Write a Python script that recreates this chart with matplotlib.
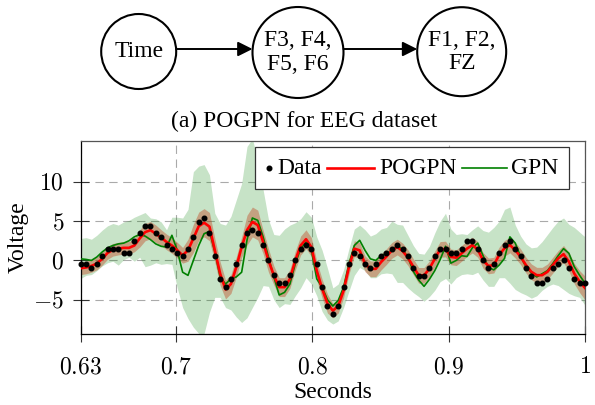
import numpy as np
import matplotlib
matplotlib.use("Agg")
import matplotlib.pyplot as plt
from matplotlib.patches import Circle
from matplotlib.lines import Line2D
from matplotlib.offsetbox import AnchoredOffsetbox, HPacker, TextArea, DrawingArea

plt.rcParams['font.family'] = ['Liberation Serif', 'DejaVu Serif']
plt.rcParams['mathtext.fontset'] = 'cm'
plt.rcParams['lines.scale_dashes'] = False

# ---------------- data ----------------
t_start, t_end, n_samples = 0.63, 1.0, 95
seconds = np.linspace(t_start, t_end, n_samples)

data = [-0.45, -0.45, -0.92, -0.45, 0.51, 1.48, 1.48, 1.48, 0.98, 0.98,
        2.48, 3.43, 4.44, 4.44, 3.43, 2.95, 1.97, 1.48, 0.98, 0.51,
        1.48, 2.95, 4.9, 5.4, 3.43, 0.51, -2.4, -3.4, -2.4, -0.47,
        1.97, 3.43, 3.9, 3.43, 1.97, 0.0, -1.9, -2.9, -2.9, -1.9,
        0.0, 1.48, 1.97, 1.48, -0.47, -3.4, -5.8, -6.8, -5.8, -3.4,
        -0.47, 0.98, 0.51, -0.47, -0.94, -0.47, 0.51, 0.98, 1.5, 1.97,
        1.5, 0.51, -0.94, -1.92, -1.92, -0.94, 0.51, 1.5, 1.5, 0.98,
        0.98, 1.5, 2.48, 2.48, 1.5, 0.0, -0.94, -0.47, 0.98, 1.97,
        2.48, 1.5, 0.51, -0.94, -1.92, -2.9, -2.9, -2.4, -0.94, -0.47,
        0.0, -0.94, -2.4, -2.9, -2.9]

pogpn_mean = [-1.0, -0.9, -0.7, -0.4, 0.2, 0.95, 1.35, 1.5, 1.6, 1.6,
              1.9, 2.8, 3.6, 3.85, 3.4, 2.9, 2.35, 1.9, 1.3, 0.65,
              1.3, 2.8, 4.35, 4.8, 4.3, 1.3, -1.7, -3.7, -3.0, -0.85,
              1.7, 3.85, 4.9, 4.5, 2.35, 0.0, -1.9, -3.4, -3.4, -2.35,
              0.0, 1.9, 2.7, 1.7, -1.3, -3.6, -5.5, -6.4, -5.8, -3.85,
              -0.85, 1.5, 1.28, -0.43, -1.07, -1.07, -0.2, 0.5, 1.28, 1.7,
              1.2, 0.35, -0.8, -1.9, -1.9, -1.05, 0.2, 1.4, 1.45, 0.45,
              0.35, 0.9, 1.5, 1.95, 1.4, 0.0, -0.7, -0.6, 0.7, 1.55,
              1.97, 1.3, 0.47, -0.6, -1.45, -1.88, -1.88, -1.45, -0.6, 0.26,
              0.8, -0.17, -1.67, -2.7, -3.5]

pogpn_half = [0.8, 0.8, 0.8, 0.8, 0.8, 0.8, 0.8, 0.8, 0.8, 0.8,
              0.8, 1.1, 1.1, 1.1, 1.1, 1.0, 1.0, 1.0, 1.0, 1.0,
              1.4, 1.8, 1.8, 1.8, 1.8, 1.5, 1.5, 1.2, 1.2, 1.3,
              1.3, 1.9, 1.9, 1.9, 1.5, 1.5, 1.2, 1.2, 1.2, 1.2,
              1.2, 1.2, 1.2, 1.2, 1.2, 1.2, 1.2, 0.9, 0.9, 0.9,
              0.9, 1.0, 1.0, 1.0, 1.0, 1.0, 1.0, 1.0, 1.0, 1.0,
              1.0, 1.0, 1.0, 1.0, 1.0, 1.0, 1.0, 1.0, 1.0, 1.0,
              1.0, 1.0, 1.0, 1.0, 1.0, 1.0, 1.0, 1.0, 1.0, 1.0,
              1.0, 1.0, 1.0, 1.0, 1.0, 1.0, 1.0, 1.0, 1.0, 1.0,
              1.1, 1.2, 1.3, 1.4, 1.5]

gpn_mean = [0.2, 0.13, 0.0, 0.43, 1.07, 1.6, 1.9, 2.1, 2.2, 2.5,
            3.0, 3.3, 3.1, 2.65, 2.1, 1.8, 1.7, 3.2, 1.28, -1.5,
            -1.9, 0.0, 1.9, 3.4, 3.7, 1.1, -2.1, -3.0, -2.35, -2.1,
            -1.5, 2.6, 5.4, 5.1, 3.0, 0.43, -2.1, -4.4, -4.06, -3.0,
            -0.43, 1.5, 2.35, 1.28, -2.35, -3.4, -5.0, -5.8, -5.1, -3.4,
            -0.43, 1.9, 2.56, 1.28, 0.2, 0.0, 0.64, 0.85, 1.28, 1.9,
            1.4, 0.4, -1.4, -2.5, -3.3, -2.4, -1.3, 0.1, 1.8, -0.35,
            0.0, 0.6, 0.5, 1.6, 2.2, 0.6, -0.9, -1.2, -0.6, 0.26,
            3.0, 2.2, 0.47, -0.8, -1.6, -2.1, -1.7, -1.3, -0.4, 0.6,
            1.5, 0.9, -0.8, -1.9, -2.9]

gpn_upper = [2.8, 2.9, 2.7, 3.2, 3.85, 4.4, 4.7, 4.5, 4.9, 5.1,
             5.5, 5.8, 6.1, 5.4, 5.3, 4.9, 3.9, 5.5, 5.5, 5.4,
             6.5, 11.3, 12.0, 12.2, 10.9, 6.0, 4.7, 4.5, 5.6, 7.7,
             9.8, 14.5, 15.5, 12.8, 9.0, 5.2, 3.3, 3.2, 4.0, 4.5,
             4.8, 5.3, 6.2, 5.5, 3.0, 1.3, -1.0, -3.5, -3.0, -1.2,
             1.5, 4.0, 4.5, 3.9, 3.1, 3.4, 4.0, 4.2, 5.0, 4.6,
             4.5, 3.2, 1.9, 0.9, 0.8, 1.8, 3.5, 5.0, 6.0, 4.0,
             3.3, 3.4, 3.3, 3.9, 4.4, 3.8, 3.6, 4.2, 5.0, 6.5,
             6.8, 4.5, 3.1, 2.1, 1.6, 1.7, 2.4, 3.3, 4.2, 5.0,
             5.4, 4.6, 4.2, 3.6, 3.0]

gpn_lower = [-2.3, -1.9, -1.8, -1.3, -0.7, -0.3, -0.1, -0.6, 0.1, 0.4,
             -0.1, 0.4, -0.8, -0.6, -0.3, -0.5, -0.4, -0.5, -3.5, -6.0,
             -7.4, -8.5, -9.3, -9.3, -6.6, -4.7, -4.7, -6.0, -6.3, -7.2,
             -7.9, -7.3, -6.0, -4.7, -3.2, -3.3, -5.0, -6.0, -5.5, -5.6,
             -4.5, -3.5, -2.2, -3.0, -4.5, -6.5, -7.6, -8.1, -7.7, -6.0,
             -3.9, -1.9, -0.9, -1.3, -2.2, -2.2, -1.7, -1.6, -1.7, -2.8,
             -2.8, -3.5, -4.1, -4.6, -5.2, -4.6, -3.8, -2.7, -2.3, -3.0,
             -2.2, -1.8, -1.7, -1.8, -1.5, -2.5, -3.3, -3.3, -2.2, -2.2,
             -2.9, -3.7, -4.1, -4.4, -4.8, -4.5, -3.8, -3.3, -3.0, -3.2,
             -3.7, -4.2, -4.5, -4.7, -5.7]

x_ticks = [0.63, 0.7, 0.8, 0.9, 1.0]
x_tick_labels = ["$0.63$", "$0.7$", "$0.8$", "$0.9$", "$1$"]
y_ticks = [-5, 0, 5, 10]
y_tick_labels = ["$-5$", "$0$", "$5$", "$10$"]
y_limits = (-9.3, 15.2)

diagram_nodes = ["Time", "F3, F4,\nF5, F6", "F1, F2,\nFZ"]
caption = "(a) POGPN for EEG dataset"
legend_labels = ["Data", "POGPN", "GPN"]

# ---------------- figure ----------------
W, H = 595, 405
fig = plt.figure(figsize=(W / 100, H / 100), dpi=100)
FS = 17

# diagram (pixel-coordinate axes)
dax = fig.add_axes([0, 1 - 135 / H, 1, 135 / H])
dax.set_xlim(0, W)
dax.set_ylim(135, 0)
dax.axis("off")
node_xy = [(138.7, 51.5), (298.0, 52.5), (461.7, 51.7)]
node_r = [37.5, 45.5, 44.5]
for (cx, cy), r, lab in zip(node_xy, node_r, diagram_nodes):
    dax.add_patch(Circle((cx, cy), r, fill=False, lw=1.5, ec="black"))
    dax.text(cx, cy, lab, ha="center", va="center", fontsize=FS,
             linespacing=1.15)
for k in range(2):
    (x0, y0), r0 = node_xy[k], node_r[k]
    (x1, y1), r1 = node_xy[k + 1], node_r[k + 1]
    dax.annotate("", xy=(x1 - r1, 49), xytext=(x0 + r0, 49),
                 arrowprops=dict(arrowstyle="-|>", lw=1.4, color="black",
                                 mutation_scale=22, shrinkA=0, shrinkB=0))
dax.text(304.5, 121.5, caption, ha="center", va="center", fontsize=FS)

# main plot
L, R, T, B = 80.7, 585.0, 141.0, 333.5
ax = fig.add_axes([L / W, (H - B) / H, (R - L) / W, (B - T) / H])

green_c = (0.0, 0.5, 0.0)
ax.fill_between(seconds, gpn_lower, gpn_upper, color=green_c, alpha=0.22,
                lw=0, zorder=1)
pm = np.array(pogpn_mean)
ph = np.array(pogpn_half)
ax.fill_between(seconds, pm - ph, pm + ph, color=(0.75, 0.15, 0.0), alpha=0.35,
                lw=0, zorder=2)
ax.plot(seconds, gpn_mean, color=green_c, lw=1.2, zorder=3)
ax.plot(seconds, pogpn_mean, color="red", lw=1.9, zorder=4)
ax.plot(seconds, data, "o", color="black", ms=3.3, zorder=5, clip_on=False)

ax.set_xlim(t_start, t_end)
ax.set_ylim(*y_limits)
ax.set_xticks(x_ticks)
ax.set_xticklabels(x_tick_labels, fontsize=FS)
ax.set_yticks(y_ticks)
ax.set_yticklabels(y_tick_labels, fontsize=FS)
ax.tick_params(axis="both", direction="inout", length=12, width=0.8,
               color="#333333")
ax.tick_params(axis="x", pad=11)
ax.tick_params(axis="y", pad=6)
ax.grid(True, color="#aaaaaa", lw=0.8, linestyle=(0, (6, 4)))
ax.set_axisbelow(True)
for s in ax.spines.values():
    s.set_linewidth(0.9)
ax.spines["bottom"].set_color("black")
ax.spines["left"].set_color("black")
ax.spines["top"].set_color("#555555")
ax.spines["right"].set_color("#555555")
ax.set_xlabel("Seconds", fontsize=FS, labelpad=3)
ax.set_ylabel("Voltage", fontsize=FS, labelpad=3)

# legend built from offset boxes
def text_area(s):
    return TextArea(s, textprops=dict(size=FS))

da_dot = DrawingArea(5, 12, 0, 0)
da_dot.add_artist(Line2D([2.5], [6], marker="o", color="black", ms=3.3, ls=""))
da_red = DrawingArea(34, 12, 0, 0)
da_red.add_artist(Line2D([0, 34], [6, 6], color="red", lw=1.9))
da_green = DrawingArea(32, 12, 0, 0)
da_green.add_artist(Line2D([0, 32], [6, 6], color=green_c, lw=1.2))
entries = [HPacker(children=[h, text_area(t)], align="center", pad=0, sep=3.5)
           for h, t in zip([da_dot, da_red, da_green], legend_labels)]
pack = HPacker(children=entries, align="center", pad=0, sep=4)
box = AnchoredOffsetbox(loc="upper right", child=pack, pad=0.45, borderpad=0,
                        frameon=True, bbox_to_anchor=(0.969, 0.969),
                        bbox_transform=ax.transAxes, prop=dict(size=FS))
box.patch.set_edgecolor("#333333")
box.patch.set_linewidth(0.9)
box.set_zorder(10)
ax.add_artist(box)

fig.savefig("out.png", dpi=100)
